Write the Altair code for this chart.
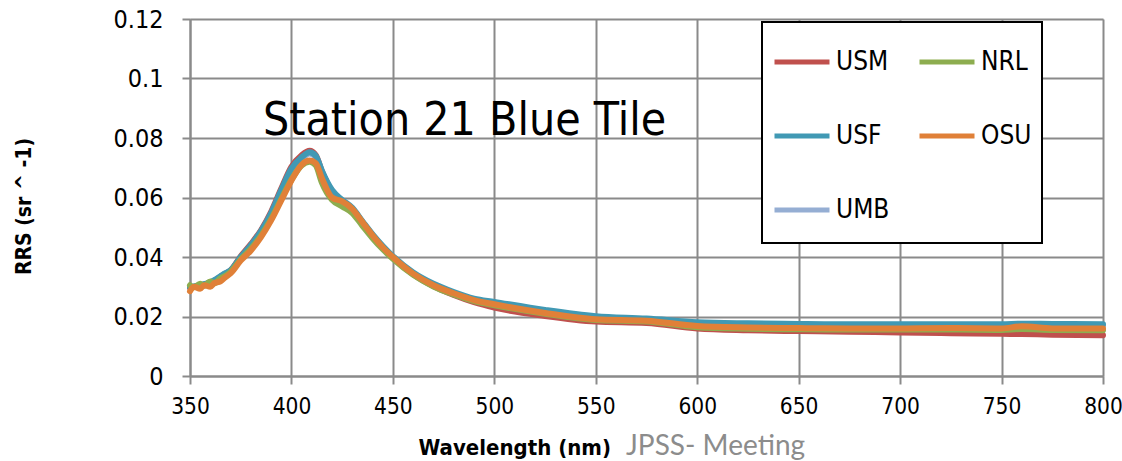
import altair as alt
import pandas as pd

wavelength = [350, 352, 355, 357, 360, 362, 365, 367, 370, 375, 380, 385, 390, 395, 400, 405, 409, 412, 415,
              420, 425, 430, 435, 440, 445, 450, 460, 470, 480, 490, 500, 525, 550, 575,
              600, 625, 650, 675, 700, 725, 750, 760, 775, 800]

usm = [.0296, .0299, .0303, .0307, .0313, .0319, .0333, .0342, .0355, .0402, .0443, .0490, .0552, .0630, .0703, .0742, .0757, .0742, .0688,
       .0620, .0588, .0560, .0514, .0470, .0430, .0397, .0342, .0302, .0272, .0248, .0230, .0202, .0183, .0178,
       .0160, .0154, .0151, .0149, .0146, .0144, .0142, .0141, .0139, .0137]
usf = [.0298, .0301, .0305, .0309, .0315, .0322, .0335, .0344, .0355, .0400, .0440, .0487, .0548, .0625, .0697, .0735, .0752, .0740, .0690,
       .0625, .0592, .0565, .0520, .0476, .0437, .0403, .0348, .0310, .0282, .0260, .0249, .0222, .0201, .0193,
       .0181, .0177, .0175, .0174, .0174, .0174, .0174, .0176, .0175, .0174]
umb = [.0297, .0300, .0304, .0308, .0314, .0321, .0334, .0343, .0354, .0398, .0438, .0485, .0545, .0620, .0692, .0730, .0748, .0736, .0686,
       .0621, .0589, .0562, .0517, .0473, .0434, .0400, .0345, .0307, .0279, .0257, .0245, .0218, .0197, .0189,
       .0177, .0172, .0170, .0169, .0169, .0169, .0169, .0170, .0169, .0169]
nrl = [.0305, .0298, .0310, .0303, .0318, .0312, .0328, .0335, .0350, .0392, .0428, .0472, .0528, .0595, .0660, .0708, .0720, .0708, .0650,
       .0592, .0570, .0548, .0505, .0463, .0426, .0394, .0340, .0301, .0274, .0252, .0238, .0209, .0188, .0183,
       .0164, .0159, .0157, .0156, .0156, .0156, .0155, .0158, .0155, .0154]
osu = [.0285, .0300, .0293, .0305, .0300, .0312, .0318, .0330, .0345, .0388, .0422, .0467, .0523, .0590, .0657, .0710, .0724, .0715, .0665,
       .0600, .0587, .0562, .0517, .0473, .0433, .0400, .0344, .0305, .0278, .0255, .0241, .0212, .0191, .0186,
       .0168, .0163, .0161, .0160, .0160, .0161, .0160, .0167, .0160, .0160]

# legend fills column by column: USM, USF, UMB | NRL, OSU
legend_order = ["USM", "USF", "UMB", "NRL", "OSU"]
colors = ["#C0504D", "#4199B4", "#95AED3", "#8DAD4F", "#E08038"]
draw_order = ["UMB", "USM", "USF", "NRL", "OSU"]
series = {"USM": usm, "USF": usf, "UMB": umb, "NRL": nrl, "OSU": osu}

rows = []
for name in draw_order:
    for w, v in zip(wavelength, series[name]):
        rows.append({"series": name, "wl": w, "rrs": v})
df = pd.DataFrame(rows)

NARROW = "DejaVu Sans Condensed"
GRID = "#8a8a8a"

color = alt.Color(
    "series:N",
    scale=alt.Scale(domain=legend_order, range=colors),
    legend=alt.Legend(
        title=" ", titleOrient="bottom", titleFontSize=6, titlePadding=4,
        orient="none", legendX=572, legendY=3, columns=2,
        symbolType="stroke", symbolSize=3025, symbolStrokeWidth=5,
        labelFont=NARROW, labelFontSize=26, labelColor="black",
        strokeColor="black", padding=10,
        rowPadding=31, columnPadding=19, labelOffset=4,
        fillColor="white",
    ),
)

x = alt.X(
    "wl:Q",
    scale=alt.Scale(domain=[350, 800], nice=False),
    axis=alt.Axis(
        values=[350, 400, 450, 500, 550, 600, 650, 700, 750, 800],
        title="Wavelength (nm)", titleFont=NARROW, titleFontSize=22, titleFontWeight="bold",
        titleColor="black", titleX=228, titleY=78, titleAlign="left", titleAnchor="start",
        titleBaseline="alphabetic",
        labelFont=NARROW, labelFontSize=22.5, labelColor="black", labelPadding=11,
        tickSize=8, tickColor=GRID, tickWidth=2, domainColor=GRID, domainWidth=2,
        gridColor=GRID, gridWidth=2, labelFlush=False,
    ),
)
y = alt.Y(
    "rrs:Q",
    scale=alt.Scale(domain=[0, 0.12], nice=False),
    axis=alt.Axis(
        values=[0, 0.02, 0.04, 0.06, 0.08, 0.1, 0.12], format=".2~f",
        title="RRS (sr ^ -1)", titleFont=NARROW, titleFontSize=21, titleFontWeight="bold",
        titleColor="black", titleX=-160, titleY=187, titleAngle=-90, titleAlign="center",
        titleBaseline="alphabetic",
        labelFont=NARROW, labelFontSize=25, labelColor="black", labelPadding=19,
        tickSize=8, tickColor=GRID, tickWidth=2, domainColor=GRID, domainWidth=2,
        gridColor=GRID, gridWidth=2, labelFlush=False,
    ),
)

layers = []
for name in draw_order:
    layers.append(
        alt.Chart(df).transform_filter(alt.datum.series == name)
        .mark_line(strokeWidth=6, strokeCap="round", strokeJoin="round", interpolate="monotone")
        .encode(x=x, y=y, color=color)
    )

title_df = pd.DataFrame({"t": ["Station 21 Blue Tile"]})
title = alt.Chart(title_df).mark_text(
    font=NARROW, fontSize=46, align="left", baseline="alphabetic", color="black"
).encode(text="t:N", x=alt.value(73), y=alt.value(116))

foot_df = pd.DataFrame({"t": ["JPSS- Meeting"]})
foot = alt.Chart(foot_df).mark_text(
    font="Lato", fontSize=28, align="left", baseline="alphabetic", color="#8c8c8c"
).encode(text="t:N", x=alt.value(436), y=alt.value(436))

chart = alt.layer(*layers, title, foot).properties(
    width=913, height=357,
    autosize=alt.AutoSizeParams(type="none"),
    padding={"left": 190, "top": 19, "right": 19, "bottom": 85},
).configure_view(stroke=None).configure(background="white").configure_legend(strokeWidth=2)

chart.save("out.html", embed_options={"renderer": "svg", "actions": False})
